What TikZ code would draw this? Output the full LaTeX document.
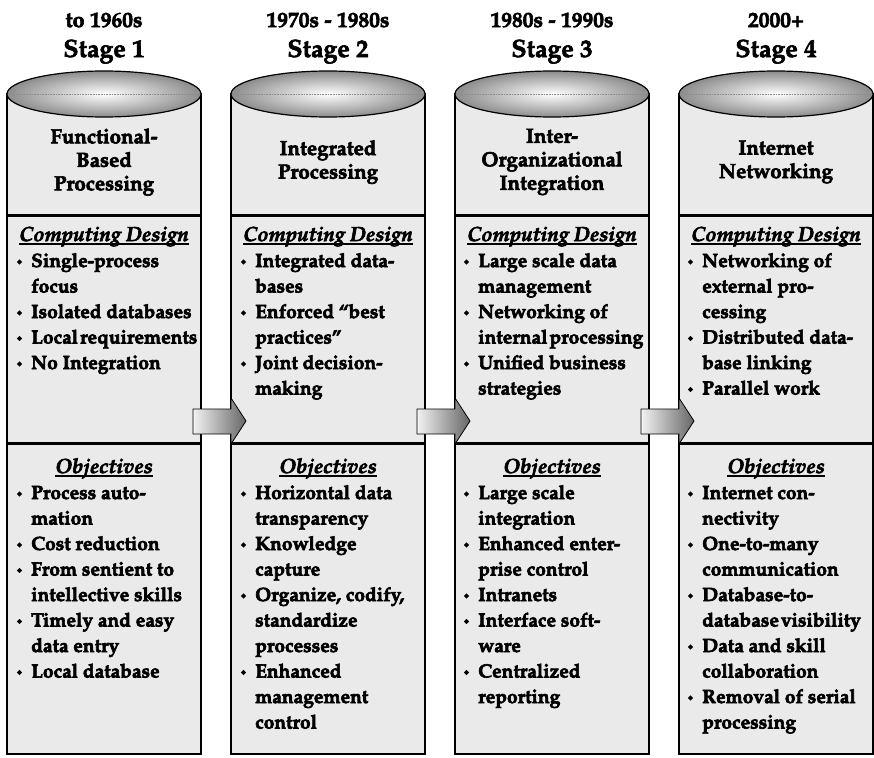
\documentclass[tikz,border=0pt]{standalone}
\usepackage[T1]{fontenc}
\renewcommand{\rmdefault}{ppl}
\usetikzlibrary{calc}

\definecolor{panelgray}{HTML}{EAEAEA}

% heavier text: fill and stroke the glyph outlines
\newcommand{\heavytext}{\special{pdf:literal direct 2 Tr 0.6 w}}
% small filled diamond used as the list bullet
\newcommand{\bul}{\leavevmode\llap{\raisebox{2.3pt}{\rotatebox{45}{\rule{3.8pt}{3.8pt}}}\hspace{9pt}}}
% underline drawn close to the baseline
\newcommand{\ulined}[1]{\setbox0=\hbox{#1}\rlap{\rule[-3.5pt]{\wd0}{1.4pt}}\box0}
% list block whose baseline is the first line
\newcommand{\itemblock}[1]{\parbox[t]{300pt}{#1}}
% a line set with tight word spacing
\newcommand{\tight}[1]{{\spaceskip=0.1em\relax #1}}

\tikzset{
  panel/.style={draw=black, line width=1.5pt, fill=panelgray,
    minimum width=194pt, minimum height=660pt, inner sep=0pt, outer sep=0pt},
  lid/.style={draw=black, line width=1.2pt, inner color=white, outer color=black!45},
  seam/.style={draw=black!45, line width=0.6pt, densely dotted},
  divider/.style={line width=3pt},
  yearlbl/.style={font=\fontsize{21.5}{24}\selectfont\bfseries\heavytext, inner sep=0pt, anchor=base},
  stagelbl/.style={font=\fontsize{25}{28}\selectfont\bfseries\heavytext, inner sep=0pt, anchor=base},
  headlbl/.style={font=\fontsize{20.5}{23.5}\selectfont\bfseries\heavytext, align=center, inner sep=0pt},
  sectitle/.style={font=\fontsize{20.5}{25}\selectfont\bfseries\itshape\heavytext, inner sep=0pt, anchor=base},
  listtxt/.style={font=\fontsize{19.2}{25.5}\selectfont\bfseries\heavytext, inner sep=0pt, anchor=base west},
  flowarrow/.style={draw=black, line width=0.8pt, left color=black!5, right color=black!60},
}

\begin{document}
\begin{tikzpicture}[x=1pt, y=-1pt]
\useasboundingbox (0,0) rectangle (874,757);

% ---------- column bodies ----------
\node[panel] (c1body) at (104,424) {};
\node[panel] (c2body) at (328,424) {};
\node[panel] (c3body) at (552,424) {};
\node[panel] (c4body) at (776,424) {};

% ---------- cylinder lids and section dividers ----------
\foreach \c in {104,328,552,776}{
  \shade[lid] (\c,94) ellipse [x radius=97, y radius=23];
  \draw[seam] (\c-96,94) -- (\c+96,94);
}
\foreach \b in {c1body,c2body,c3body,c4body}{
  \draw[divider] ($(\b.north west)+(0,121)$) -- ($(\b.north east)+(0,121)$);
  \draw[divider] ($(\b.north west)+(0,349)$) -- ($(\b.north east)+(0,349)$);
}

% ---------- stage 1 ----------
\node[yearlbl] (c1year) at (104,27) {to 1960s};
\node[stagelbl] (c1stage) at (104,57) {Stage 1};
\node[headlbl] (c1head) at (104,162) {Functional-\\Based\\Processing};
\node[sectitle] (c1cdt) at (104,241) {\ulined{Computing Design}};
\node[listtxt] (c1cd) at (31,267) {\itemblock{%
  \bul Single-process\\focus\\
  \bul Isolated databases\\
  \bul \tight{Local requirements}\\
  \bul No Integration}};
\node[sectitle] (c1objt) at (104,473) {\ulined{Objectives}};
\node[listtxt] (c1obj) at (31,499) {\itemblock{%
  \bul Process auto-\\mation\\
  \bul Cost reduction\\
  \bul From sentient to\\intellective skills\\
  \bul Timely and easy\\data entry\\
  \bul Local database}};

% ---------- stage 2 ----------
\node[yearlbl] (c2year) at (328,27) {1970s - 1980s};
\node[stagelbl] (c2stage) at (328,57) {Stage 2};
\node[headlbl] (c2head) at (328,162) {Integrated\\Processing};
\node[sectitle] (c2cdt) at (328,241) {\ulined{Computing Design}};
\node[listtxt] (c2cd) at (255,267) {\itemblock{%
  \bul Integrated data-\\bases\\
  \bul Enforced ``best\\practices''\\
  \bul Joint decision-\\making}};
\node[sectitle] (c2objt) at (328,473) {\ulined{Objectives}};
\node[listtxt] (c2obj) at (255,499) {\itemblock{%
  \bul Horizontal data\\transparency\\
  \bul Knowledge\\capture\\
  \bul Organize, codify,\\standardize\\processes\\
  \bul Enhanced\\management\\control}};

% ---------- stage 3 ----------
\node[yearlbl] (c3year) at (552,27) {1980s - 1990s};
\node[stagelbl] (c3stage) at (552,57) {Stage 3};
\node[headlbl] (c3head) at (552,162) {Inter-\\Organizational\\Integration};
\node[sectitle] (c3cdt) at (552,241) {\ulined{Computing Design}};
\node[listtxt] (c3cd) at (478,267) {\itemblock{%
  \bul Large scale data\\management\\
  \bul Networking of\\\tight{internal processing}\\
  \bul Unified business\\strategies}};
\node[sectitle] (c3objt) at (552,473) {\ulined{Objectives}};
\node[listtxt] (c3obj) at (478,499) {\itemblock{%
  \bul Large scale\\integration\\
  \bul Enhanced enter-\\prise control\\
  \bul Intranets\\
  \bul Interface soft-\\ware\\
  \bul Centralized\\reporting}};

% ---------- stage 4 ----------
\node[yearlbl] (c4year) at (776,27) {2000+};
\node[stagelbl] (c4stage) at (776,57) {Stage 4};
\node[headlbl] (c4head) at (776,162) {Internet\\Networking};
\node[sectitle] (c4cdt) at (776,241) {\ulined{Computing Design}};
\node[listtxt] (c4cd) at (702,267) {\itemblock{%
  \bul Networking of\\external pro-\\cessing\\
  \bul Distributed data-\\base linking\\
  \bul Parallel work}};
\node[sectitle] (c4objt) at (776,473) {\ulined{Objectives}};
\node[listtxt] (c4obj) at (702,499) {\itemblock{%
  \bul Internet con-\\nectivity\\
  \bul One-to-many\\communication\\
  \bul Database-to-\\\tight{database visibility}\\
  \bul Data and skill\\collaboration\\
  \bul Removal of serial\\processing}};

% ---------- block arrows between stages ----------
\foreach \a/\b in {c1body/c2body, c2body/c3body, c3body/c4body}{
  \path[flowarrow]
    ($(\a.east)+(-8,-15)$) -- ($(\b.west)+(0,-15)$) -- ($(\b.west)+(0,-26)$)
    -- ($(\b.west)+(15,-3)$) -- ($(\b.west)+(0,20)$) -- ($(\b.west)+(0,10)$)
    -- ($(\a.east)+(-8,10)$) -- cycle;
}
\end{tikzpicture}
\end{document}
